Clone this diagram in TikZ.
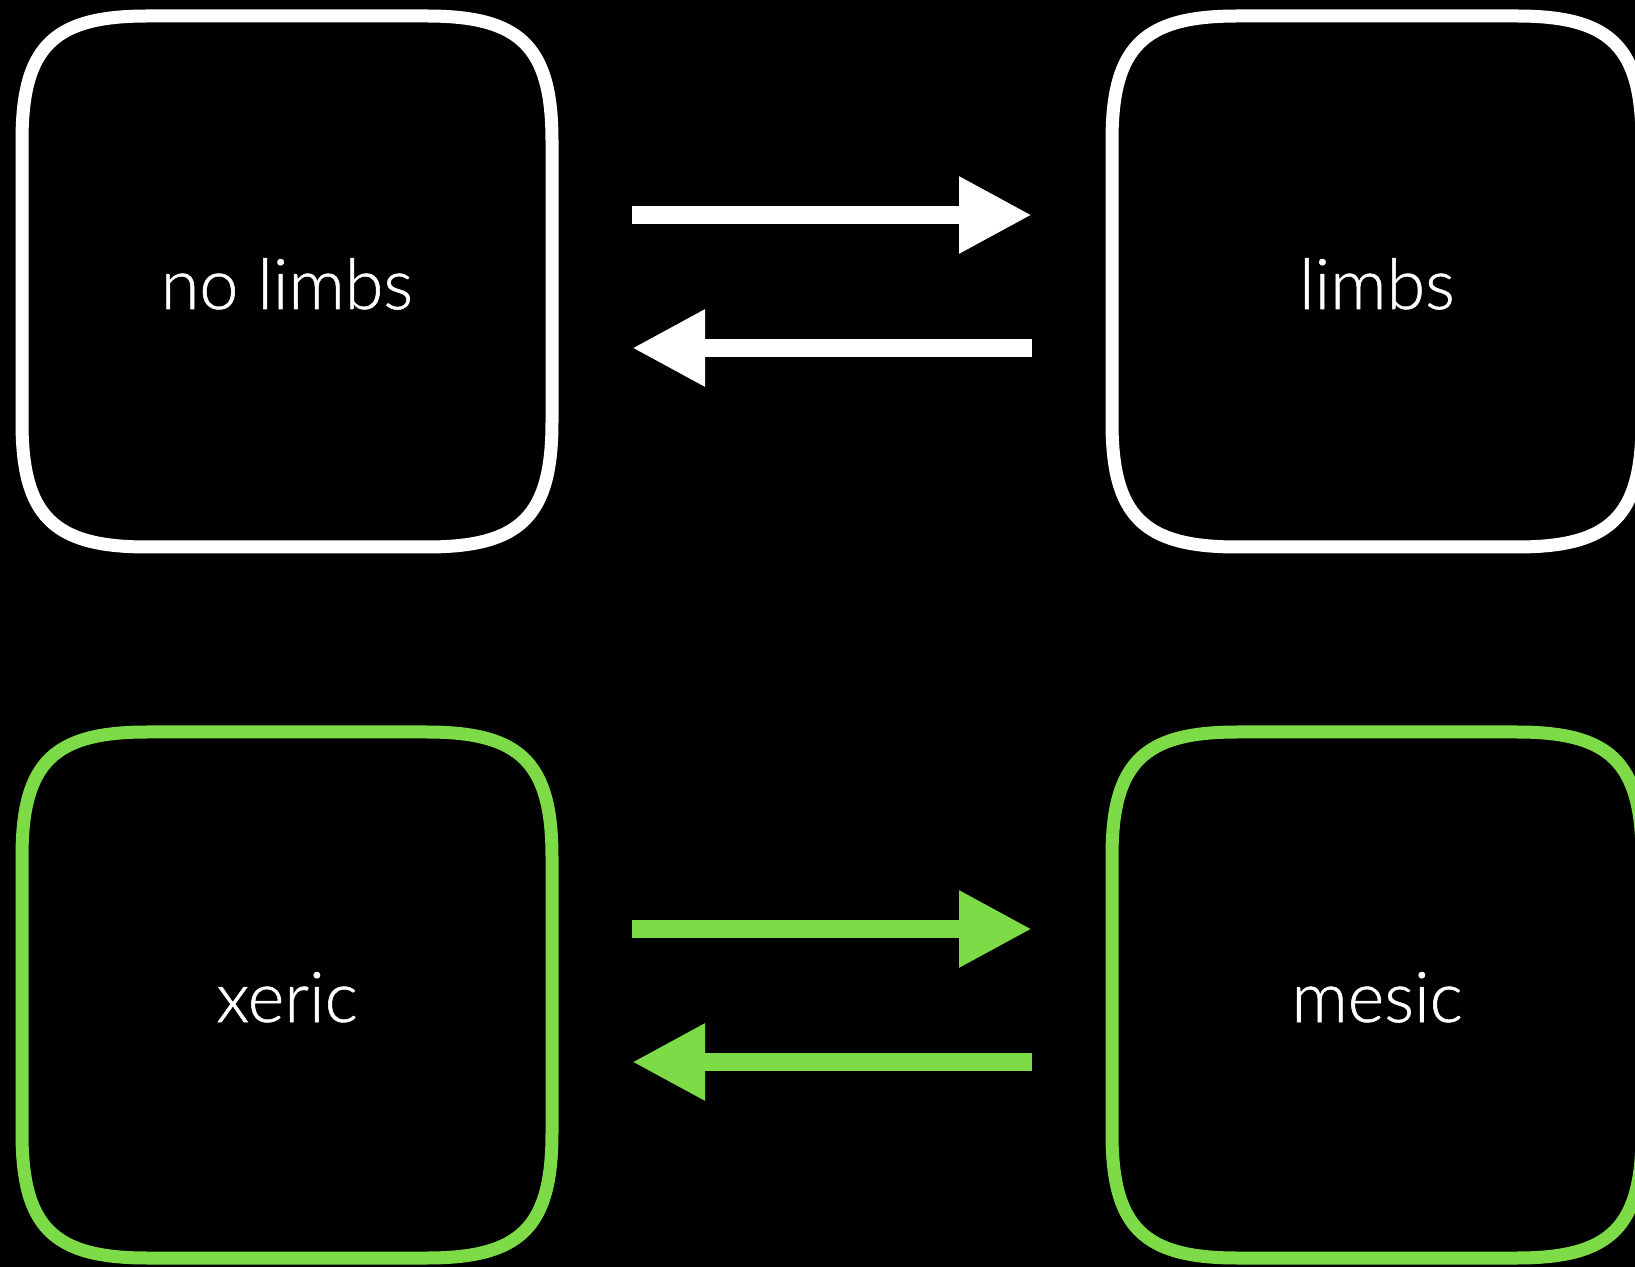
\documentclass[tikz,border=0pt]{standalone}
\usepackage{fontspec}
\setmainfont{Lato Light}[FakeBold=0.8]
\usetikzlibrary{arrows.meta}
\definecolor{grn}{RGB}{124,219,70}
% squircle box: colour, x0, y0, x1, y1
\newcommand\sqbox[5]{%
  \def\L{125}\def\K{31}%
  \draw[boxline=#1]
    ({#2+\L},#3) -- ({#4-\L},#3)
    .. controls ({#4-\K},#3) and (#4,{#3+\K}) .. (#4,{#3+\L})
    -- (#4,{#5-\L})
    .. controls (#4,{#5-\K}) and ({#4-\K},#5) .. ({#4-\L},#5)
    -- ({#2+\L},#5)
    .. controls ({#2+\K},#5) and (#2,{#5-\K}) .. (#2,{#5-\L})
    -- (#2,{#3+\L})
    .. controls (#2,{#3+\K}) and ({#2+\K},#3) .. ({#2+\L},#3) -- cycle;}
\begin{document}
\begin{tikzpicture}[x=0.5pt,y=-0.5pt,
  boxline/.style={draw=#1, line width=6.5pt, line join=round},
  lbl/.style={text=white, font=\fontsize{35}{40}\selectfont, anchor=base, inner sep=0pt},
  arr/.style={draw=#1, line width=9pt, -{Triangle[length=36.5pt,width=36pt,fill=#1]}}]
\useasboundingbox (0,0) rectangle (1635,1267);
\clip (0,0) rectangle (1635,1267);
\fill[black] (0,0) rectangle (1635,1267);
% boxes
\sqbox{white}{22}{16}{552}{547}
\sqbox{white}{1112}{16}{1642}{547}
\sqbox{grn}{22}{732}{552}{1258}
\sqbox{grn}{1112}{732}{1642}{1258}
% labels
\node[lbl] (nolimbs) at (287,309) {no limbs};
\node[lbl] (limbs) at (1377,309) {limbs};
\node[lbl] (xeric) at (287,1022) {xeric};
\node[lbl] (mesic) at (1377,1022) {mesic};
% arrow endpoints
\coordinate (a1s) at (632,215);
\coordinate (a1e) at (1032,215);
\coordinate (a2s) at (1032,348);
\coordinate (a2e) at (632,348);
\coordinate (b1s) at (632,929);
\coordinate (b1e) at (1032,929);
\coordinate (b2s) at (1032,1062);
\coordinate (b2e) at (632,1062);
\draw[arr=white] (a1s) -- (a1e);
\draw[arr=white] (a2s) -- (a2e);
\draw[arr=grn] (b1s) -- (b1e);
\draw[arr=grn] (b2s) -- (b2e);
\end{tikzpicture}
\end{document}
